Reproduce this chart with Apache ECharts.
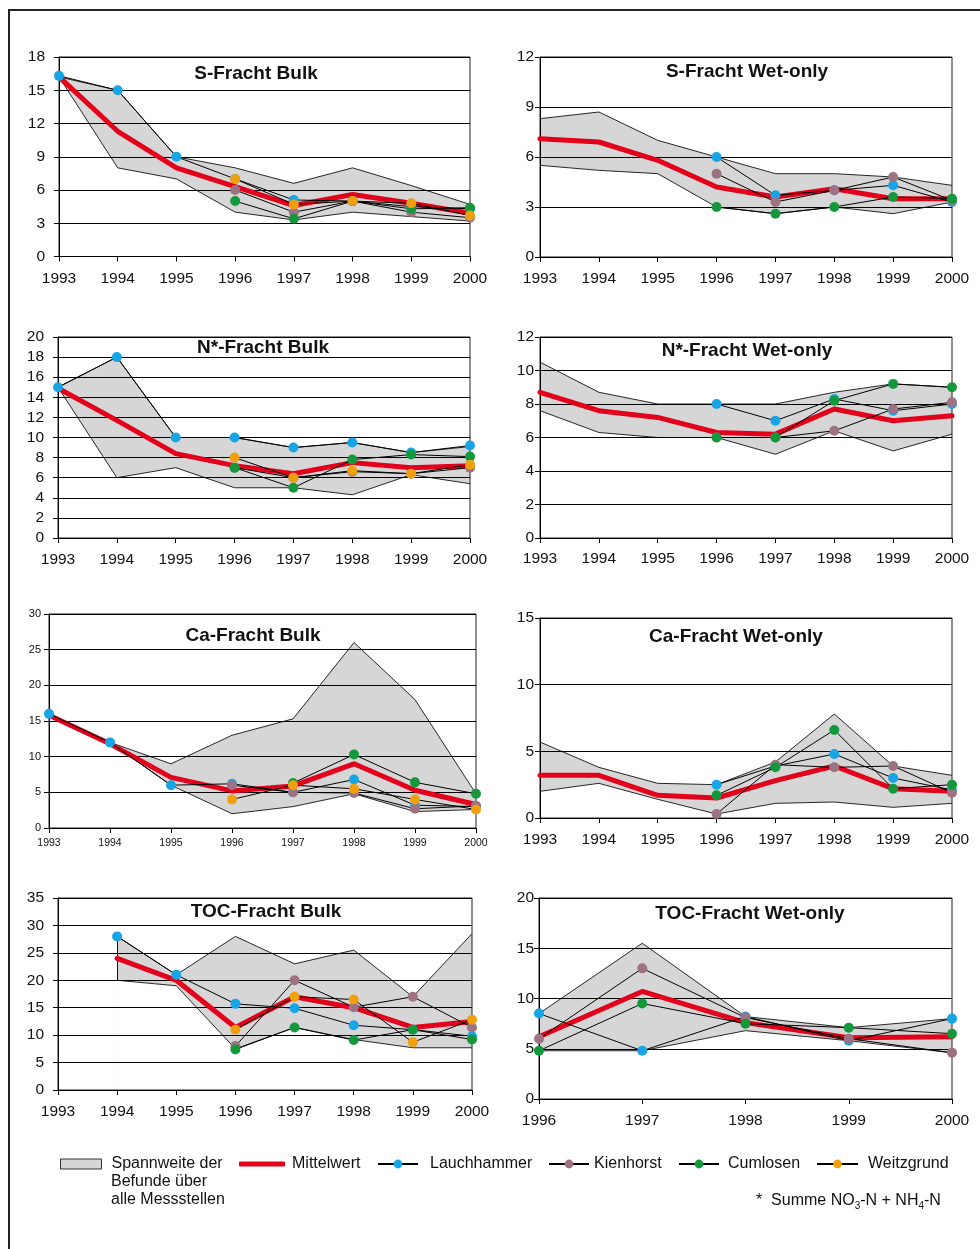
<!DOCTYPE html>
<html><head><meta charset="utf-8">
<script src="https://cdn.jsdelivr.net/npm/echarts@6/dist/echarts.min.js"></script>
<style>html,body{margin:0;padding:0;background:#fff}#c{width:980px;height:1249px}</style>
</head><body><div id="c"></div>
<script>
// ---------- categories ----------
const years = ['1993','1994','1995','1996','1997','1998','1999','2000'];
const yearsTocWet = ['1996','1997','1998','1999','2000'];

// ---------- S-Fracht Bulk ----------
const sBulkUpper = [16.2, 15, 9, 8, 6.6, 8, 6.4, 4.7];
const sBulkLower = [16.2, 8, 7, 4, 3.3, 4, 3.6, 3.2];
const sBulkMean  = [16.2, 11.3, 8, 6.3, 4.6, 5.6, 4.8, 3.9];
const sBulkLauch = [16.3, 15, 9, 7, 5.1, 5, 4.5, 4.3];
const sBulkKien  = [null, null, null, 6, 4, 5, 4, 3.5];
const sBulkCuml  = [null, null, null, 5, 3.4, 5, 4.3, 4.4];
const sBulkWeitz = [null, null, null, 7, 4.7, 5, 4.8, 3.7];

// ---------- S-Fracht Wet-only ----------
const sWetUpper = [8.3, 8.7, 7, 6, 5, 5, 4.8, 4.3];
const sWetLower = [5.5, 5.2, 5, 3, 2.6, 3, 2.6, 3.3];
const sWetMean  = [7.1, 6.9, 5.8, 4.2, 3.6, 4.1, 3.5, 3.5];
const sWetLauch = [null, null, null, 6, 3.7, 4, 4.3, 3.3];
const sWetKien  = [null, null, null, 5, 3.3, 4, 4.8, 3.4];
const sWetCuml  = [null, null, null, 3, 2.6, 3, 3.6, 3.5];

// ---------- N*-Fracht Bulk ----------
const nBulkUpper = [15, 18, 10, 10, 9, 9.5, 8.5, 9.1];
const nBulkLower = [15, 6, 7, 5, 5, 4.3, 6.3, 5.4];
const nBulkMean  = [14.9, 11.7, 8.4, 7.2, 6.4, 7.5, 7.0, 7.2];
const nBulkLauch = [15, 18, 10, 10, 9, 9.5, 8.5, 9.2];
const nBulkKien  = [null, null, null, 7, 6, 6.6, 6.4, 7.0];
const nBulkCuml  = [null, null, null, 7, 5, 7.8, 8.3, 8.1];
const nBulkWeitz = [null, null, null, 8, 6, 6.7, 6.4, 7.3];

// ---------- N*-Fracht Wet-only ----------
const nWetUpper = [10.5, 8.7, 8, 8, 8, 8.7, 9.2, 9.0];
const nWetLower = [7.6, 6.3, 6, 6, 5, 6.4, 5.2, 6.2];
const nWetMean  = [8.7, 7.6, 7.2, 6.3, 6.2, 7.7, 7.0, 7.3];
const nWetLauch = [null, null, null, 8, 7, 8.3, 7.6, 8.0];
const nWetKien  = [null, null, null, 6, 6, 6.4, 7.7, 8.1];
const nWetCuml  = [null, null, null, 6, 6, 8.2, 9.2, 9.0];

// ---------- Ca-Fracht Bulk ----------
const caBulkUpper = [16, 12, 9, 13, 15.3, 26, 18, 4.8];
const caBulkLower = [16, 12, 6, 2, 3, 4.8, 2.3, 2.6];
const caBulkMean  = [15.8, 11.8, 7.1, 5.2, 5.9, 9.0, 5.3, 3.3];
const caBulkLauch = [16, 12, 6, 6.2, 5, 6.8, 3.2, 3.0];
const caBulkKien  = [null, null, null, 6, 5, 4.9, 2.7, 3.1];
const caBulkCuml  = [null, null, null, null, 6.3, 10.3, 6.4, 4.8];
const caBulkWeitz = [null, null, null, 4, 6, 5.5, 4, 2.6];

// ---------- Ca-Fracht Wet-only ----------
const caWetUpper = [5.7, 3.8, 2.6, 2.5, 4.2, 7.8, 3.9, 3.2];
const caWetLower = [2.0, 2.6, 1.4, 0.3, 1.1, 1.2, 0.8, 1.1];
const caWetMean  = [3.2, 3.2, 1.7, 1.5, 2.8, 3.9, 2.2, 2.0];
const caWetLauch = [null, null, null, 2.5, 3.9, 4.8, 3.0, 2.1];
const caWetKien  = [null, null, null, 0.3, 4.0, 3.8, 3.9, 1.9];
const caWetCuml  = [null, null, null, 1.7, 3.8, 6.6, 2.2, 2.5];

// ---------- TOC-Fracht Bulk ----------
const tocBulkUpper = [null, 28, 21, 28, 23, 25.5, 17, 28.5];
const tocBulkLower = [null, 20, 19, 7.5, 11.4, 9.2, 7.7, 7.7];
const tocBulkMean  = [null, 24, 20, 11.4, 17, 15, 11.4, 12.5];
const tocBulkLauch = [null, 28, 21, 15.7, 14.9, 11.8, 11, 9.8];
const tocBulkKien  = [null, null, null, 8, 20, 15.1, 17, 11.4];
const tocBulkCuml  = [null, null, null, 7.4, 11.4, 9.1, 11, 9.2];
const tocBulkWeitz = [null, null, null, 11, 17, 16.5, 8.7, 12.8];

// ---------- TOC-Fracht Wet-only ----------
const tocWetUpper = [8.5, 15.5, 8.2, 7.1, 8.0];
const tocWetLower = [4.8, 4.8, 6.8, 5.8, 4.6];
const tocWetMean  = [6.2, 10.7, 7.6, 6.1, 6.2];
const tocWetLauch = [8.5, 4.8, 8.2, 5.8, 8.0];
const tocWetKien  = [6, 13, 8.1, 6, 4.6];
const tocWetCuml  = [4.8, 9.5, 7.5, 7.1, 6.5];

// ---------- labels ----------
const RANGE_NAME = 'Spannweite der Befunde über alle Messstellen';
const MEAN_NAME = 'Mittelwert';
const stationNames = ['Lauchhammer', 'Kienhorst', 'Cumlosen', 'Weitzgrund'];
const stationColors = ['#17a5e5', '#9d7282', '#13993c', '#f0a00f'];

const FONT = '"Liberation Sans", Arial, Helvetica, sans-serif';

const panels = [
  {title:'S-Fracht Bulk', cats:years, upper:sBulkUpper, lower:sBulkLower, mean:sBulkMean,
   st:[sBulkLauch, sBulkKien, sBulkCuml, sBulkWeitz], max:18, interval:3,
   box:[59,57,411,199.5], tx:256, ty:74, ym:14, xm:14, yf:15.5, xf:15.5},
  {title:'S-Fracht Wet-only', cats:years, upper:sWetUpper, lower:sWetLower, mean:sWetMean,
   st:[sWetLauch, sWetKien, sWetCuml, null], max:12, interval:3,
   box:[540,57,412,200], tx:747, ty:72, ym:6, xm:14, yf:15.5, xf:15.5},
  {title:'N*-Fracht Bulk', cats:years, upper:nBulkUpper, lower:nBulkLower, mean:nBulkMean,
   st:[nBulkLauch, nBulkKien, nBulkCuml, nBulkWeitz], max:20, interval:2,
   box:[58,337,412,201], tx:263, ty:348, ym:14, xm:14, yf:15.5, xf:15.5},
  {title:'N*-Fracht Wet-only', cats:years, upper:nWetUpper, lower:nWetLower, mean:nWetMean,
   st:[nWetLauch, nWetKien, nWetCuml, null], max:12, interval:2,
   box:[540,337,412,201], tx:747, ty:351, ym:6, xm:13, yf:15.5, xf:15.5},
  {title:'Ca-Fracht Bulk', cats:years, upper:caBulkUpper, lower:caBulkLower, mean:caBulkMean,
   st:[caBulkLauch, caBulkKien, caBulkCuml, caBulkWeitz], max:30, interval:5,
   box:[49,614,427,214], tx:253, ty:636, ym:8, xm:10, yf:11, xf:10.5},
  {title:'Ca-Fracht Wet-only', cats:years, upper:caWetUpper, lower:caWetLower, mean:caWetMean,
   st:[caWetLauch, caWetKien, caWetCuml, null], max:15, interval:5,
   box:[540,618,412,200], tx:736, ty:637, ym:6, xm:14, yf:15.5, xf:15.5},
  {title:'TOC-Fracht Bulk', cats:years, upper:tocBulkUpper, lower:tocBulkLower, mean:tocBulkMean,
   st:[tocBulkLauch, tocBulkKien, tocBulkCuml, tocBulkWeitz], max:35, interval:5,
   box:[58,898,414,192], tx:266, ty:912, ym:14, xm:14, yf:15.5, xf:15.5},
  {title:'TOC-Fracht Wet-only', cats:yearsTocWet, upper:tocWetUpper, lower:tocWetLower, mean:tocWetMean,
   st:[tocWetLauch, tocWetKien, tocWetCuml, null], max:20, interval:5,
   box:[539,898,413,201], tx:750, ty:914, ym:5, xm:14, yf:15.5, xf:15.5}
];

const grids = [], xAxes = [], yAxes = [], series = [], graphics = [];

panels.forEach((p, i) => {
  grids.push({left:p.box[0], top:p.box[1], width:p.box[2], height:p.box[3],
    show:true, backgroundColor:'transparent', borderColor:'#222', borderWidth:1, z:2});
  xAxes.push({type:'category', gridIndex:i, data:p.cats, boundaryGap:false, z:2,
    axisLine:{lineStyle:{color:'#000', width:1}},
    axisTick:{show:true, length:5, lineStyle:{color:'#000'}},
    axisLabel:{color:'#111', fontFamily:FONT, fontSize:p.xf, margin:p.xm, showMinLabel:true, showMaxLabel:true, interval:0},
    splitLine:{show:false}});
  yAxes.push({type:'value', gridIndex:i, min:0, max:p.max, interval:p.interval, z:2,
    axisLine:{show:true, lineStyle:{color:'#000', width:1}},
    axisTick:{show:true, length:5, lineStyle:{color:'#000'}},
    axisLabel:{color:'#111', fontFamily:FONT, fontSize:p.yf, margin:p.ym},
    splitLine:{show:true, lineStyle:{color:'#000', width:1}}});

  // range band: upper filled grey, lower filled white (both to axis base)
  const first = p.upper.findIndex(v => v !== null);
  series.push({type:'line', name:RANGE_NAME, xAxisIndex:i, yAxisIndex:i, data:p.upper,
    symbol:'none', silent:true, z:1,
    lineStyle:{color:'#111', width:0.9},
    areaStyle:{color:'#d6d6d6', opacity:1, origin:'start'}});
  series.push({type:'line', name:'Spannweite untere Grenze', xAxisIndex:i, yAxisIndex:i, data:p.lower,
    symbol:'none', silent:true, z:1.5,
    lineStyle:{color:'#111', width:0.9},
    areaStyle:{color:'#ffffff', opacity:1, origin:'start'}});
  const meanSeries = {type:'line', name:MEAN_NAME, xAxisIndex:i, yAxisIndex:i, data:p.mean,
    symbol:'none', z:3, itemStyle:{color:'#e2001a'},
    lineStyle:{color:'#e2001a', width:5, join:'round', cap:'round'}};
  if (first > 0) {
    // closing edge of the range band where it starts later than the axis
    meanSeries.markLine = {symbol:'none', silent:true, label:{show:false}, z:2.5,
      lineStyle:{color:'#111', width:1, type:'solid', opacity:1},
      emphasis:{disabled:true},
      data:[[{coord:[p.cats[first], p.lower[first]]}, {coord:[p.cats[first], p.upper[first]]}]]};
  }
  series.push(meanSeries);
  p.st.forEach((arr, k) => {
    if (!arr) return;
    series.push({type:'line', name:stationNames[k], xAxisIndex:i, yAxisIndex:i, data:arr,
      symbol:'circle', symbolSize:10, showSymbol:true, showAllSymbol:true, z:4,
      itemStyle:{color:stationColors[k]},
      lineStyle:{color:'#000', width:1}});
  });

  graphics.push({type:'text', x:p.tx, y:p.ty, z:10,
    style:{text:p.title, font:'bold 19px ' + FONT, fill:'#111', align:'center', verticalAlign:'middle'}});
});

// outer frame of the figure
graphics.push({type:'line', shape:{x1:8, y1:10, x2:980, y2:10}, style:{stroke:'#222', lineWidth:2}});
graphics.push({type:'line', shape:{x1:9, y1:10, x2:9, y2:1249}, style:{stroke:'#222', lineWidth:2}});
// continuation lines of the range legend label
graphics.push({type:'text', x:111, y:1182, style:{text:'Befunde über', font:'16px ' + FONT, fill:'#111', verticalAlign:'middle'}});
graphics.push({type:'text', x:111, y:1200, style:{text:'alle Messstellen', font:'16px ' + FONT, fill:'#111', verticalAlign:'middle'}});
// footnote
graphics.push({type:'text', x:756, y:1201, style:{
  text:'*  Summe NO{s|3}-N + NH{s|4}-N', font:'16px ' + FONT, fill:'#111', verticalAlign:'middle', lineHeight:20,
  rich:{s:{fontSize:10, lineHeight:10, verticalAlign:'bottom', fill:'#111', fontFamily:FONT}}}});

const LEG_Y = 1164;
const legTxt = {color:'#111', fontFamily:FONT, fontSize:16};
function leg(name, left, w, h, padLeft, extra) {
  const item = Object.assign({name:name}, extra || {});
  return {left:left, top:LEG_Y - 8, padding:0, itemWidth:w, itemHeight:h, selectedMode:false,
    textStyle:Object.assign({}, legTxt, {padding:[0,0,0,padLeft]}), data:[item]};
}
const legends = [
  leg(RANGE_NAME, 60, 41, 10, 5, {icon:'rect', itemStyle:{color:'#d6d6d6', borderColor:'#333', borderWidth:1}}),
  leg(MEAN_NAME, 239, 46, 5, 2, {icon:'roundRect', itemStyle:{color:'#e2001a', borderWidth:0}}),
  leg('Lauchhammer', 377, 40, 11, 7),
  leg('Kienhorst', 548, 40, 11, 0),
  leg('Cumlosen', 678, 40, 11, 4),
  leg('Weitzgrund', 816, 41, 11, 5)
];
legends[0].formatter = () => 'Spannweite der';

const chart = echarts.init(document.getElementById('c'), null, {renderer:'canvas'});
chart.setOption({
  backgroundColor:'#fff',
  animation:false,
  textStyle:{fontFamily:FONT},
  grid:grids, xAxis:xAxes, yAxis:yAxes, series:series,
  legend:legends,
  graphic:graphics
});
</script></body></html>
